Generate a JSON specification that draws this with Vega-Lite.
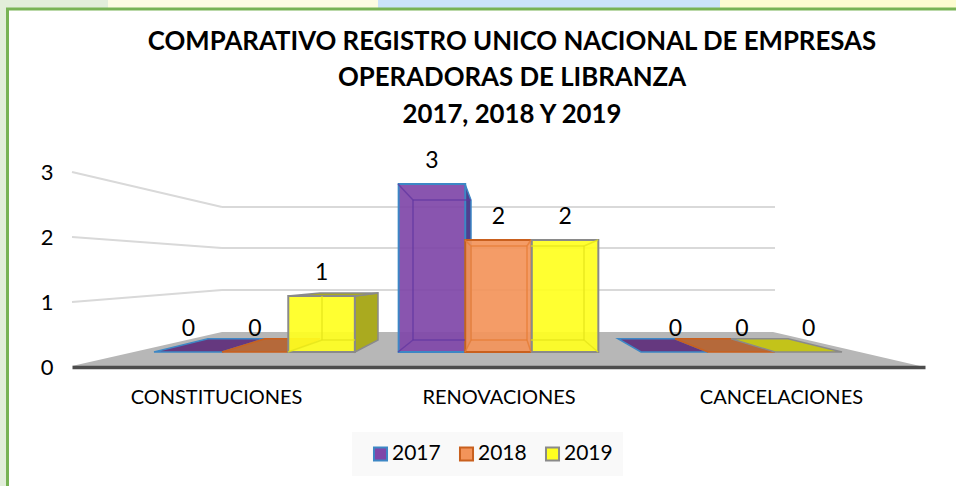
{
"$schema":"https://vega.github.io/schema/vega-lite/v6.json",
"width":956,"height":486,"padding":0,"autosize":{"type":"none"},"background":"white",
"config":{"view":{"stroke":null},"font":"Lato"},
"title":{"text":["COMPARATIVO REGISTRO UNICO  NACIONAL DE EMPRESAS","OPERADORAS DE LIBRANZA","2017, 2018 Y 2019"],"anchor":"middle","frame":"group","dx":34,"offset":-129,"baseline":"top","font":"Lato","fontSize":25.8,"fontWeight":"bold","color":"#000000","lineHeight":36.5},
"datasets":{
"barras":[
{"categoria":"CONSTITUCIONES","serie":"2017","valor":0},{"categoria":"CONSTITUCIONES","serie":"2018","valor":0},{"categoria":"CONSTITUCIONES","serie":"2019","valor":1},
{"categoria":"RENOVACIONES","serie":"2017","valor":3},{"categoria":"RENOVACIONES","serie":"2018","valor":2},{"categoria":"RENOVACIONES","serie":"2019","valor":2},
{"categoria":"CANCELACIONES","serie":"2017","valor":0},{"categoria":"CANCELACIONES","serie":"2018","valor":0},{"categoria":"CANCELACIONES","serie":"2019","valor":0}],
"fondo":[
{"zona":"verde","x":0,"x2":1.08,"v":6.29,"v2":6.14},
{"zona":"amarillo1","x":1.08,"x2":3.78,"v":6.29,"v2":6.14},
{"zona":"azul","x":3.78,"x2":7.2,"v":6.29,"v2":6.14},
{"zona":"amarillo2","x":7.2,"x2":9.56,"v":6.29,"v2":6.14},
{"zona":"verde","x":0,"x2":0.07,"v":6.29,"v2":-2.4}],
"marco":[{"x":0.075,"x2":9.9,"v":6.125,"v2":-2.7}],
"caja":[{"x":3.52,"x2":6.23,"v":-1.429,"v2":-2.214}],
"piso":[{"x":0.72,"v":-0.25,"v2":-0.25},{"x":2.22,"v":0.357,"v2":-0.25},{"x":7.73,"v":0.357,"v2":-0.25},{"x":9.2,"v":-0.25,"v2":-0.25}],
"rejilla":[
{"x":0.72,"x2":2.22,"v":3.214,"v2":2.589},{"x":2.22,"x2":7.75,"v":2.589,"v2":2.589},
{"x":0.72,"x2":2.22,"v":2.054,"v2":1.857},{"x":2.22,"x2":7.75,"v":1.857,"v2":1.857},
{"x":0.72,"x2":2.22,"v":0.893,"v2":1.107},{"x":2.22,"x2":7.75,"v":1.107,"v2":1.107}],
"caras":[
{"cara":"a","tono":"piso2017","x":1.54,"v":0,"v2":0},{"cara":"a","tono":"piso2017","x":2.08,"v":0.2375,"v2":0},{"cara":"a","tono":"piso2017","x":2.22,"v":0.2375,"v2":0},{"cara":"a","tono":"piso2017","x":2.65,"v":0.2375,"v2":0.2375},
{"cara":"b","tono":"piso2018","x":2.22,"v":0,"v2":0},{"cara":"b","tono":"piso2018","x":2.65,"v":0.2375,"v2":0},{"cara":"b","tono":"piso2018","x":2.88,"v":0.2375,"v2":0},{"cara":"b","tono":"piso2018","x":3.2,"v":0.2375,"v2":0.2375},
{"cara":"c","tono":"piso2017","x":6.18,"v":0.2375,"v2":0.2375},{"cara":"c","tono":"piso2017","x":6.41,"v":0.2375,"v2":0},{"cara":"c","tono":"piso2017","x":6.75,"v":0.2375,"v2":0},{"cara":"c","tono":"piso2017","x":7.08,"v":0,"v2":0},
{"cara":"d","tono":"piso2018","x":6.75,"v":0.2375,"v2":0.2375},{"cara":"d","tono":"piso2018","x":7.08,"v":0.2375,"v2":0},{"cara":"d","tono":"piso2018","x":7.31,"v":0.2375,"v2":0},{"cara":"d","tono":"piso2018","x":7.75,"v":0,"v2":0},
{"cara":"e","tono":"piso2019","x":7.31,"v":0.2375,"v2":0.2375},{"cara":"e","tono":"piso2019","x":7.75,"v":0.2375,"v2":0},{"cara":"e","tono":"piso2019","x":7.88,"v":0.2375,"v2":0},{"cara":"e","tono":"piso2019","x":8.42,"v":0,"v2":0},
{"cara":"f","tono":"lado2019","x":3.55,"v":1,"v2":0},{"cara":"f","tono":"lado2019","x":3.78,"v":1.054,"v2":0.214},
{"cara":"g","tono":"lado2019","x":2.88,"v":1,"v2":1},{"cara":"g","tono":"lado2019","x":3.2,"v":1.054,"v2":1},{"cara":"g","tono":"lado2019","x":3.55,"v":1.054,"v2":1},{"cara":"g","tono":"lado2019","x":3.78,"v":1.054,"v2":1.054},
{"cara":"h","tono":"lado2017","x":4.65,"v":3,"v2":0},{"cara":"h","tono":"lado2017","x":4.71,"v":2.714,"v2":0.214}],
"aristas":[
{"serie":"2017","x":3.98,"x2":4.13,"v":3,"v2":2.714},{"serie":"2017","x":4.13,"x2":4.71,"v":2.714,"v2":2.714},{"serie":"2017","x":4.13,"x2":4.13,"v":2.714,"v2":0.214},{"serie":"2017","x":4.13,"x2":4.65,"v":0.214,"v2":0.214},{"serie":"2017","x":4.13,"x2":3.98,"v":0.214,"v2":0},
{"serie":"2018","x":4.65,"x2":4.71,"v":2,"v2":1.893},{"serie":"2018","x":4.71,"x2":5.27,"v":1.893,"v2":1.893},{"serie":"2018","x":5.27,"x2":5.31,"v":1.893,"v2":2},{"serie":"2018","x":4.71,"x2":4.71,"v":1.893,"v2":0.214},{"serie":"2018","x":5.27,"x2":5.27,"v":1.893,"v2":0.214},{"serie":"2018","x":4.71,"x2":5.27,"v":0.214,"v2":0.214},{"serie":"2018","x":4.71,"x2":4.65,"v":0.214,"v2":0},{"serie":"2018","x":5.27,"x2":5.31,"v":0.214,"v2":0},
{"serie":"2019","x":5.31,"x2":5.84,"v":1.893,"v2":1.893},{"serie":"2019","x":5.84,"x2":5.98,"v":1.893,"v2":2},{"serie":"2019","x":5.84,"x2":5.84,"v":1.893,"v2":0.214},{"serie":"2019","x":5.31,"x2":5.84,"v":0.214,"v2":0.214},{"serie":"2019","x":5.84,"x2":5.98,"v":0.214,"v2":0},
{"serie":"2019","x":3.22,"x2":3.22,"v":1,"v2":0.214},{"serie":"2019","x":3.22,"x2":3.55,"v":0.214,"v2":0.214},{"serie":"2019","x":2.88,"x2":3.22,"v":0,"v2":0.214}]
},
"layer":[
{"encoding":{
 "x":{"field":"x","type":"quantitative","scale":{"domain":[0,9.56],"range":[0,956]},"axis":null},
 "y":{"field":"v","type":"quantitative","scale":{"domain":[0,3],"range":[352,184]},"axis":null}},
 "layer":[
 {"data":{"name":"fondo"},"mark":{"type":"rect","clip":false},"encoding":{"x2":{"field":"x2"},"y2":{"field":"v2"},"color":{"field":"zona","type":"nominal","legend":null,"scale":{"domain":["verde","amarillo1","azul","amarillo2"],"range":["#e2eeda","#fdfce2","#cbe3fa","#fdfcd0"]}}}},
 {"data":{"name":"marco"},"mark":{"type":"rect","fill":"white","stroke":"#78b355","strokeWidth":3},"encoding":{"x2":{"field":"x2"},"y2":{"field":"v2"}}},
 {"data":{"name":"caja"},"mark":{"type":"rect","fill":"#f9f9f9"},"encoding":{"x2":{"field":"x2"},"y2":{"field":"v2"}}},
 {"data":{"name":"piso"},"mark":{"type":"area","fill":"#b7b7b7"},"encoding":{"y2":{"field":"v2"}}},
 {"data":{"name":"rejilla"},"mark":{"type":"rule","stroke":"#d9d9d9","strokeWidth":2},"encoding":{"x2":{"field":"x2"},"y2":{"field":"v2"}}},
 {"data":{"name":"caras"},"mark":{"type":"area","strokeWidth":1.5},"encoding":{"y2":{"field":"v2"},"detail":{"field":"cara","type":"nominal"},
  "fill":{"field":"tono","type":"nominal","legend":null,"scale":{"domain":["piso2017","piso2018","piso2019","lado2017","lado2019"],"range":["#65387f","#b5693a","#c3c31a","#4f3f8f","#aaaa1f"]}},
  "stroke":{"field":"tono","type":"nominal","legend":null,"scale":{"domain":["piso2017","piso2018","piso2019","lado2017","lado2019"],"range":["#3d87c5","#c9601e","#8a8a8a","#3d87c5","#8a8a8a"]}}}}
 ]},
{"data":{"name":"barras"},
 "encoding":{
 "x":{"field":"categoria","type":"nominal","sort":null,"axis":null,"scale":{"domain":["CONSTITUCIONES","RENOVACIONES","CANCELACIONES"],"range":[72,925],"paddingInner":0.18,"paddingOuter":0.3415}},
 "xOffset":{"field":"serie","type":"nominal","scale":{"paddingInner":0,"paddingOuter":0}},
 "y":{"field":"valor","type":"quantitative","axis":null,"scale":{"domain":[0,3],"range":[352,184]}}},
 "layer":[
 {"transform":[{"filter":"datum.valor > 0"}],"mark":{"type":"bar","strokeWidth":2,"fillOpacity":0.92},
  "encoding":{
   "fill":{"field":"serie","type":"nominal","title":null,"scale":{"domain":["2017","2018","2019"],"range":["#7f47a8","#f3945a","#ffff20"]},
    "legend":{"orient":"none","legendX":359,"legendY":432,"direction":"horizontal","padding":11,"symbolType":"square","symbolSize":170,"symbolStrokeWidth":2,"labelFontSize":21,"labelFont":"Lato","labelColor":"#000000","labelOffset":1,"columnPadding":14,"title":null,"symbolOpacity":1}},
   "stroke":{"field":"serie","type":"nominal","title":null,"scale":{"domain":["2017","2018","2019"],"range":["#3d87c5","#c9601e","#8a8a8a"]}}}},
 {"mark":{"type":"text","dy":-23,"fontSize":23,"font":"Lato","color":"#000000"},"encoding":{"text":{"field":"valor","type":"quantitative"}}}
 ]},
{"data":{"name":"aristas"},"mark":{"type":"rule","strokeWidth":1.5,"opacity":0.75},
 "encoding":{
 "x":{"field":"x","type":"quantitative","scale":{"domain":[0,9.56],"range":[0,956]},"axis":null},
 "x2":{"field":"x2"},
 "y":{"field":"v","type":"quantitative","scale":{"domain":[0,3],"range":[352,184]},"axis":null},
 "y2":{"field":"v2"},
 "color":{"field":"serie","type":"nominal","legend":null,"scale":{"domain":["2017","2018","2019"],"range":["#6236a0","#e57b33","#e3e31a"]}}}},
{"data":{"name":"barras"},"mark":{"type":"point","opacity":0},
 "encoding":{
 "x":{"field":"categoria","type":"nominal","sort":null,"scale":{"type":"point","domain":["CONSTITUCIONES","RENOVACIONES","CANCELACIONES"],"range":[72,925],"padding":0.51},
  "axis":{"orient":"bottom","offset":-119,"title":null,"ticks":false,"labelAngle":0,"labelFontSize":20,"labelFont":"Lato","labelColor":"#000000","labelPadding":20,"domainColor":"#4d4d4d","domainWidth":3.5,"zindex":1,"labelOverlap":false}},
 "y":{"field":"valor","type":"quantitative","scale":{"domain":[0,3],"range":[367,172]},
  "axis":{"orient":"left","offset":-72,"title":null,"ticks":false,"domain":false,"grid":false,"values":[0,1,2,3],"labelFontSize":22,"labelFont":"Lato","labelColor":"#000000","labelPadding":19,"zindex":1}}}}
],
"resolve":{"scale":{"x":"independent","y":"independent","color":"independent","fill":"independent","stroke":"independent"}}
}
